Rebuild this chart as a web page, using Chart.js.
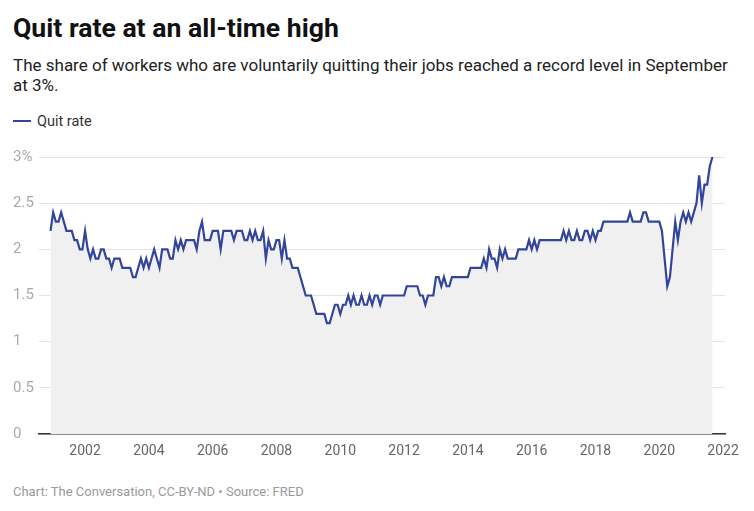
<!DOCTYPE html>
<html>
<head>
<meta charset="utf-8">
<title>Quit rate at an all-time high</title>
<script src="https://cdn.jsdelivr.net/npm/chart.js@4.4.1/dist/chart.umd.min.js"></script>
<style>
  html, body { margin: 0; padding: 0; background: #fff; }
  body { width: 754px; height: 511px; position: relative; overflow: hidden; font-family: Roboto, "Noto Sans", sans-serif; }
  .title { position: absolute; left: 13px; top: 12px; font-size: 26.6px; line-height: 31px; font-weight: 700; color: #111; white-space: nowrap; }
  .subtitle { position: absolute; left: 13px; top: 55px; font-size: 17px; line-height: 20px; color: #222; white-space: nowrap; }
  .legend { position: absolute; left: 13px; top: 113px; font-size: 14.5px; line-height: 17px; color: #333; white-space: nowrap; }
  .legend .swatch { display: inline-block; width: 18px; height: 2px; background: #33449b; vertical-align: middle; margin-right: 6px; position: relative; top: -1px; }
  .footer { position: absolute; left: 13px; top: 484px; font-size: 13px; line-height: 16px; color: #9a9a9a; white-space: nowrap; }
  #chartWrap { position: absolute; left: 0; top: 140px; width: 754px; height: 340px; }
</style>
</head>
<body>
<div class="title">Quit rate at an all-time high</div>
<div class="subtitle">The share of workers who are voluntarily quitting their jobs reached a record level in September<br>at 3%.</div>
<div class="legend"><span class="swatch"></span>Quit rate</div>
<div id="chartWrap"><canvas id="quitChart" width="754" height="340"></canvas></div>
<div class="footer">Chart: The Conversation, CC-BY-ND • Source: FRED</div>

<script>
// monthly series starts December 2000
const startYear = 2000;
const startMonth = 12;

// quit rate, % (one value per month, Dec 2000 - Sep 2021)
const quitRate = [
  2.2,
  2.4, 2.3, 2.3, 2.4, 2.3, 2.2, 2.2, 2.2, 2.1, 2.1, 2.0, 2.0, // 2001
  2.2, 2.0, 1.9, 2.0, 1.9, 1.9, 2.0, 2.0, 1.9, 1.9, 1.8, 1.9, // 2002
  1.9, 1.9, 1.8, 1.8, 1.8, 1.8, 1.7, 1.7, 1.8, 1.9, 1.8, 1.9, // 2003
  1.8, 1.9, 2.0, 1.9, 1.8, 2.0, 2.0, 2.0, 1.9, 1.9, 2.1, 2.0, // 2004
  2.1, 2.0, 2.1, 2.1, 2.1, 2.1, 2.0, 2.2, 2.3, 2.1, 2.1, 2.1, // 2005
  2.2, 2.2, 2.2, 2.0, 2.2, 2.2, 2.2, 2.2, 2.1, 2.2, 2.2, 2.2, // 2006
  2.1, 2.1, 2.2, 2.1, 2.2, 2.1, 2.1, 2.2, 1.9, 2.1, 2.0, 2.0, // 2007
  2.1, 2.1, 1.9, 2.1, 1.9, 1.9, 1.8, 1.8, 1.8, 1.7, 1.6, 1.5, // 2008
  1.5, 1.5, 1.4, 1.3, 1.3, 1.3, 1.3, 1.2, 1.2, 1.3, 1.4, 1.4, // 2009
  1.3, 1.4, 1.4, 1.5, 1.4, 1.5, 1.4, 1.4, 1.5, 1.4, 1.4, 1.5, // 2010
  1.4, 1.5, 1.5, 1.4, 1.5, 1.5, 1.5, 1.5, 1.5, 1.5, 1.5, 1.5, // 2011
  1.5, 1.6, 1.6, 1.6, 1.6, 1.6, 1.5, 1.5, 1.4, 1.5, 1.5, 1.5, // 2012
  1.7, 1.7, 1.6, 1.7, 1.6, 1.6, 1.7, 1.7, 1.7, 1.7, 1.7, 1.7, // 2013
  1.7, 1.8, 1.8, 1.8, 1.8, 1.8, 1.9, 1.8, 2.0, 1.9, 1.9, 1.8, // 2014
  2.0, 1.9, 2.0, 1.9, 1.9, 1.9, 1.9, 2.0, 2.0, 2.0, 2.0, 2.1, // 2015
  2.0, 2.1, 2.0, 2.1, 2.1, 2.1, 2.1, 2.1, 2.1, 2.1, 2.1, 2.1, // 2016
  2.2, 2.1, 2.2, 2.1, 2.1, 2.2, 2.1, 2.1, 2.2, 2.2, 2.1, 2.2, // 2017
  2.1, 2.2, 2.2, 2.3, 2.3, 2.3, 2.3, 2.3, 2.3, 2.3, 2.3, 2.3, // 2018
  2.3, 2.4, 2.3, 2.3, 2.3, 2.3, 2.4, 2.4, 2.3, 2.3, 2.3, 2.3, // 2019
  2.3, 2.2, 1.9, 1.6, 1.7, 2.0, 2.3, 2.1, 2.3, 2.4, 2.3, 2.4, // 2020
  2.3, 2.4, 2.5, 2.8, 2.5, 2.7, 2.7, 2.9, 3.0                 // 2021
];

const xTicks = [2002, 2004, 2006, 2008, 2010, 2012, 2014, 2016, 2018, 2020, 2022];
const yTicks = [0, 0.5, 1, 1.5, 2, 2.5, 3];

// month i -> fractional year, so the linear axis puts Jan 1 on the year tick
function monthToYear(i) {
  const m = startMonth - 1 + i;
  return startYear + Math.floor(m / 12) + (m % 12) / 12;
}

const points = quitRate.map((v, i) => ({ x: monthToYear(i), y: v }));

new Chart(document.getElementById('quitChart').getContext('2d'), {
  type: 'line',
  data: {
    datasets: [{
      label: 'Quit rate',
      data: points,
      borderColor: '#33449b',
      borderWidth: 2.2,
      backgroundColor: '#f0f0f0',
      fill: 'origin',
      pointRadius: 0,
      tension: 0
    }]
  },
  options: {
    responsive: false,
    animation: false,
    layout: { padding: { left: 13, right: 29, top: 17, bottom: 16 } },
    plugins: {
      legend: { display: false },
      tooltip: { enabled: false }
    },
    scales: {
      x: {
        type: 'linear',
        min: 2000.556,
        max: 2022.06,
        afterBuildTicks: (scale) => { scale.ticks = xTicks.map(v => ({ value: v })); },
        afterFit: (scale) => { scale.height = 30; },
        grid: { display: false, drawTicks: false },
        border: { display: true, color: '#333', width: 1.5 },
        ticks: {
          autoSkip: false,
          maxRotation: 0,
          padding: 9,
          color: '#666',
          font: { family: 'Roboto', size: 14 },
          callback: (v) => String(v)
        }
      },
      y: {
        min: 0,
        max: 3,
        afterBuildTicks: (scale) => { scale.ticks = yTicks.map(v => ({ value: v })); },
        afterFit: (scale) => { scale.width = 26; },
        grid: { color: '#e4e4e4', lineWidth: 1, drawTicks: false },
        border: { display: false },
        ticks: {
          crossAlign: 'far',
          padding: 0,
          color: '#aaa',
          font: { family: 'Roboto', size: 15 },
          callback: (v) => v === 3 ? '3%' : String(v)
        }
      }
    }
  }
});
</script>
</body>
</html>
